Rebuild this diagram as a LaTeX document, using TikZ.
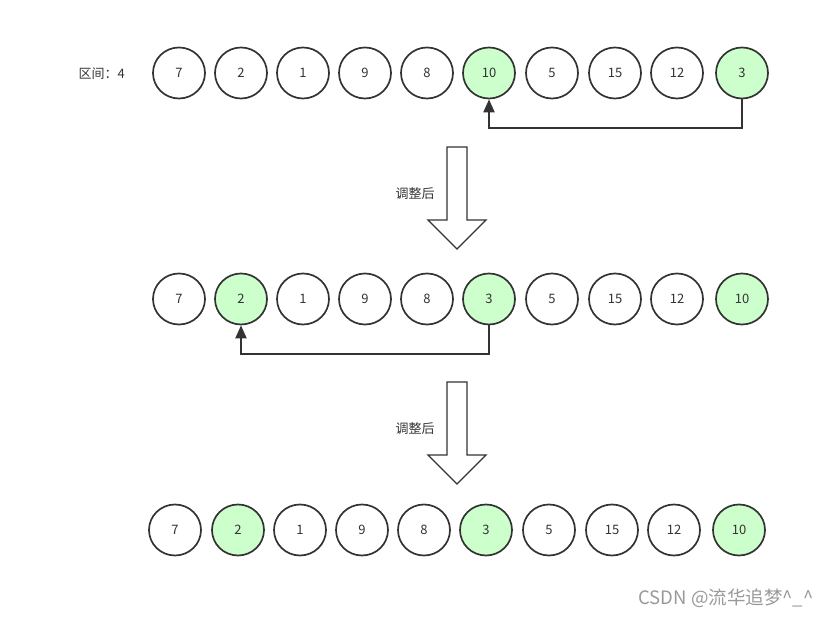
\documentclass[tikz,border=0pt]{standalone}
\usepackage{fontspec}
\setmainfont{Noto Sans CJK SC}
\usetikzlibrary{arrows.meta,shapes.geometric}
\definecolor{linec}{HTML}{333333}
\definecolor{hil}{HTML}{CCFFCC}
\tikzset{
  num/.style={ellipse,draw=linec,line width=1.7pt,minimum width=52pt,minimum height=51pt,inner sep=0pt,font=\fontsize{13}{13}\selectfont,text=linec},
  hnum/.style={num,fill=hil},
  conn/.style={draw=linec,line width=2pt,-{Triangle[length=13pt,width=11pt]}},
  barrow/.style={draw=linec,line width=1.3pt,fill=white},
  lbl/.style={font=\fontsize{13}{13}\selectfont,text=linec}
}
\begin{document}
\begin{tikzpicture}[x=1pt,y=-1pt]
\useasboundingbox (0,0) rectangle (831,617);
% labels
\node[lbl,anchor=west] (qj) at (75,74) {区间：4};
% row 1
\foreach \i/\x/\v/\s in {1/179/7/num,2/241/2/num,3/303/1/num,4/365/9/num,5/427/8/num,6/489/10/hnum,7/552/5/num,8/615/15/num,9/677/12/num,10/742/3/hnum}
  \node[\s] (a\i) at (\x,73) {\v};
% row 2
\foreach \i/\x/\v/\s in {1/179/7/num,2/241/2/hnum,3/303/1/num,4/365/9/num,5/427/8/num,6/489/3/hnum,7/552/5/num,8/615/15/num,9/677/12/num,10/742/10/hnum}
  \node[\s] (b\i) at (\x,299) {\v};
% row 3
\foreach \i/\x/\v/\s in {1/175/7/num,2/238/2/hnum,3/300/1/num,4/362/9/num,5/424/8/num,6/486/3/hnum,7/549/5/num,8/612/15/num,9/674/12/num,10/739/10/hnum}
  \node[\s] (c\i) at (\x,530) {\v};
% connectors
\coordinate (k1) at (742,128);
\coordinate (k2) at (489,128);
\draw[conn] (a10.south) -- (k1) -- (k2) -- (a6.south);
\coordinate (m1) at (489,354);
\coordinate (m2) at (241,354);
\draw[conn] (b6.south) -- (m1) -- (m2) -- (b2.south);
% block arrows
\draw[barrow] (447,147) -- (467,147) -- (467,220) -- (486,220) -- (457,249) -- (428,220) -- (447,220) -- cycle;
\node[lbl] (t1) at (415,194) {调整后};
\draw[barrow] (447,382) -- (467,382) -- (467,455) -- (486,455) -- (457,484) -- (428,455) -- (447,455) -- cycle;
\node[lbl] (t2) at (415,429) {调整后};
% watermark
\node[font=\fontsize{18.5}{18.5}\selectfont,text=black!40,anchor=east] (wm) at (817,598) {CSDN @流华追梦\textasciicircum\_\textasciicircum};
\end{tikzpicture}
\end{document}
